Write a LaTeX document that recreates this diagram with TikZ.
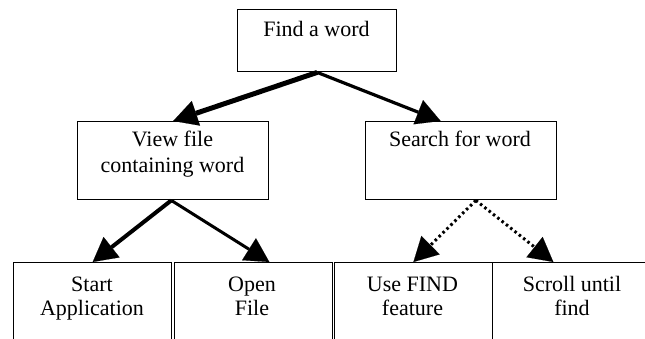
\documentclass[tikz,border=0pt]{standalone}
\usepackage{fontspec}
\setmainfont{Liberation Serif}
\usetikzlibrary{arrows.meta,calc}
\begin{document}
\begin{tikzpicture}[x=1pt,y=-1pt,
  box/.style={draw,line width=1.4pt,inner sep=0pt,anchor=north west},
  txt/.style={font=\fontsize{22}{23.5}\selectfont,align=center,inner sep=0pt,anchor=base},
  head/.style={-{Triangle[length=24pt,width=26pt,line width=0.1pt]}},
  dots/.style={dash pattern=on 2.5pt off 3pt,line width=3pt}
]
\useasboundingbox (0,0) rectangle (645,339);
\clip (0,0) rectangle (645,339);
% boxes
\node[box,minimum width=159pt,minimum height=62pt] (top) at (237,9) {};
\node[box,minimum width=191pt,minimum height=78pt] (vl) at (77,121) {};
\node[box,minimum width=191pt,minimum height=78pt] (sw) at (365,121) {};
\node[box,minimum width=158pt,minimum height=100pt] (b1) at (13,262) {};
\node[box,minimum width=158pt,minimum height=100pt] (b2) at (173.7,262) {};
\node[box,minimum width=158.5pt,minimum height=100pt] (b3) at (333.5,262) {};
\node[box,minimum width=160pt,minimum height=100pt] (b4) at (492,262) {};
% texts (base = baseline of last line)
\node[txt] (topt) at (316.5,37) {Find a word};
\node[txt] (vlt) at (172.5,173) {View file\\[3pt]containing word};
\node[txt] (swt) at (460,147) {Search for word};
\node[txt] (b1t) at (92,315) {Start\\Application};
\node[txt] (b2t) at (252,315) {Open\\File};
\node[txt] (b3t) at (412.5,315) {Use FIND\\feature};
\node[txt] (b4t) at (572,315) {Scroll until\\find};
% connectors
\draw[head,line width=5pt] (top.south) -- (vl.north);
\draw[head,line width=3.2pt] (top.south) -- ($(sw.north west)!0.393!(sw.north east)$);
\draw[head,line width=4pt] ($(vl.south west)!0.49!(vl.south east)$) -- (b1.north);
\draw[head,line width=3pt] ($(vl.south west)!0.49!(vl.south east)$) -- ($(b2.north west)!0.6!(b2.north east)$);
\draw[head,dots] ($(sw.south west)!0.576!(sw.south east)$) -- (b3.north);
\draw[head,dots] ($(sw.south west)!0.576!(sw.south east)$) -- ($(b4.north west)!0.38!(b4.north east)$);
\end{tikzpicture}
\end{document}
